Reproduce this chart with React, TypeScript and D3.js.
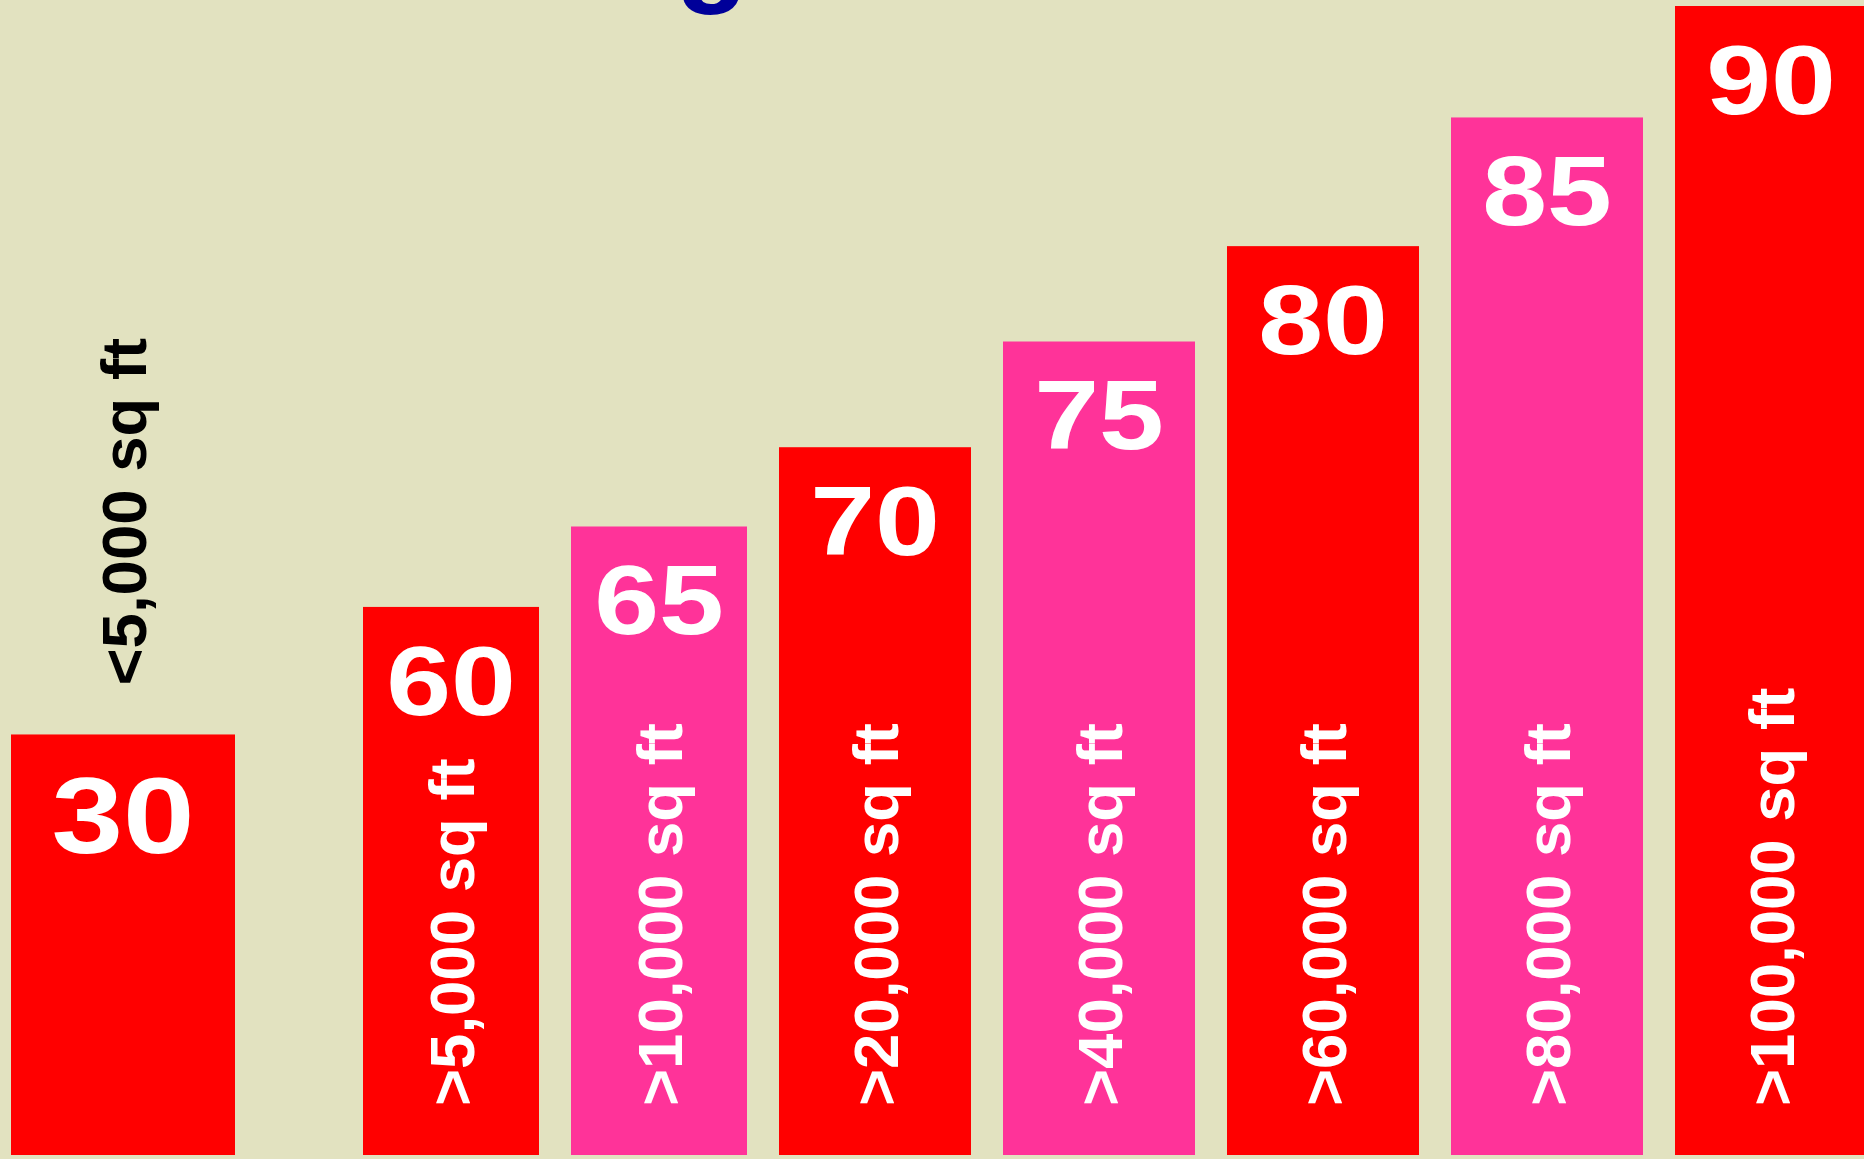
import React, { useEffect } from "react";
import * as d3 from "d3";

// ---- data ----
const categories = [
  "<5,000 sq ft",
  ">5,000 sq ft",
  ">10,000 sq ft",
  ">20,000 sq ft",
  ">40,000 sq ft",
  ">60,000 sq ft",
  ">80,000 sq ft",
  ">100,000 sq ft",
];
const values = [30, 60, 65, 70, 75, 80, 85, 90];
// bar height (percent of plot height) as drawn
const barHeights = [36.6, 47.7, 54.7, 61.6, 70.8, 79.1, 90.3, 100];
const titleText = "Building Size";

// ---- layout / style ----
const W = 1864;
const H = 1159;
const BG = "#E2E2C0";
const RED = "#FF0000";
const PINK = "#FF3399";
const FONT = "'Liberation Sans', Arial, Helvetica, sans-serif";

export default function App() {
  useEffect(() => {
    document.body.style.margin = "0";
  }, []);

  const y = d3.scaleLinear().domain([0, 100]).range([1155, 6]);
  // left edge of each bar by index (piecewise, gaps of 32 after the first group)
  const xLeft = d3.scaleLinear().domain([0, 1, 3, 8]).range([11, 363, 779, 1899]);
  const gap = (i: number) => (i === 0 ? 128 : 32);

  const bars = categories.map((c, i) => {
    const x0 = xLeft(i);
    const w = xLeft(i + 1) - x0 - gap(i);
    const top = y(barHeights[i]);
    const pxH = y(0) - top;
    return {
      c,
      v: values[i],
      x0,
      w,
      cx: x0 + w / 2,
      top,
      inside: pxH > 500,
      fill: i === 0 || i % 2 === 1 ? RED : PINK,
      numSize: w > 200 ? 108 : 98,
    };
  });

  const labelSize = 63.5;

  return (
    <svg
      width={W}
      height={H}
      style={{ position: "absolute", left: 0, top: 0, display: "block" }}
    >
      <rect x={0} y={0} width={W} height={H} fill={BG} />
      <text
        x={269}
        y={-11}
        fill="#000099"
        fontFamily={FONT}
        fontWeight="bold"
        fontSize={120}
      >
        {titleText}
      </text>
      {bars.map((b, i) => (
        <g key={i}>
          <rect x={b.x0} y={b.top} width={b.w} height={y(0) - b.top} fill={b.fill} />
          <text
            transform={`translate(${b.cx},${b.top + b.numSize * 1.1}) scale(1.19,1)`}
            textAnchor="middle"
            fill="#fff"
            fontFamily={FONT}
            fontWeight="bold"
            fontSize={b.numSize}
          >
            {b.v}
          </text>
          <text
            transform={`translate(${b.cx + labelSize * 0.358},${
              b.inside ? y(0) - 49 : b.top - 49
            }) rotate(-90)`}
            textAnchor="start"
            fill={b.inside ? "#fff" : "#000"}
            fontFamily={FONT}
            fontWeight="bold"
            fontSize={labelSize}
          >
            {b.c}
          </text>
        </g>
      ))}
    </svg>
  );
}
